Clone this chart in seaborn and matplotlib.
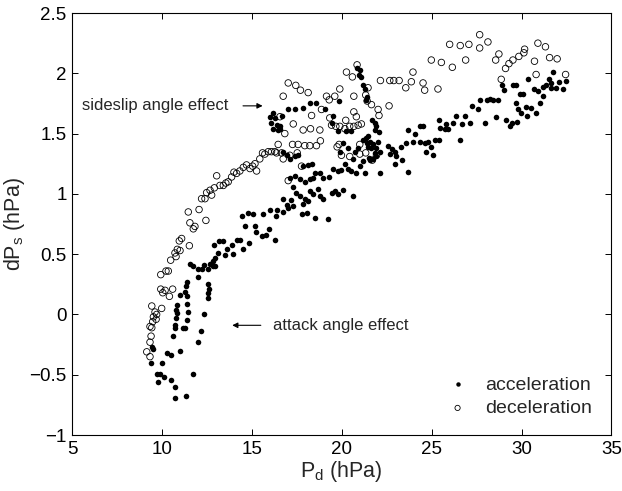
import numpy as np
import pandas as pd
import matplotlib
matplotlib.use("Agg")
import matplotlib.pyplot as plt
import seaborn as sns
from matplotlib.ticker import FuncFormatter

# ---------------- data ----------------
acc_pd = [
    16.00, 16.15, 16.28, 16.04, 16.37, 16.19, 16.46, 16.56, 16.65,
    14.43, 14.80, 15.07, 15.59, 16.00, 16.37, 16.33, 14.61, 15.17, 15.22,
    15.54, 15.78, 15.94, 16.28, 12.91, 13.18, 13.37, 13.59, 13.52, 13.87,
    13.96, 14.15, 14.33, 14.52, 14.85, 13.13, 12.94, 12.85, 12.81, 11.55,
    11.74, 12.02, 12.20, 12.33, 12.57, 12.67, 12.94, 11.37, 11.33, 11.28,
    11.37, 11.41, 11.46, 11.37, 11.28, 12.02, 12.57, 12.57, 12.54, 12.63,
    11.00, 10.81, 10.78, 10.81, 10.78, 10.72, 10.72, 10.63, 12.33, 11.18,
    12.16, 12.02, 10.30, 10.50, 11.00, 9.43, 9.48, 9.39, 9.98, 9.70,
    9.89, 10.11, 9.80, 10.48, 10.72, 11.70, 10.72, 11.33,
    20.85, 21.00, 20.96, 21.09, 21.19, 21.28, 21.33, 21.41, 21.70, 21.83,
    21.93, 21.83, 22.07, 17.02, 17.39, 17.85, 18.22, 18.56, 19.06, 19.43,
    19.85, 16.56, 19.52, 19.80, 20.26, 20.54, 21.46, 21.19, 21.56, 21.46,
    21.74, 22.02, 21.93, 21.83, 21.93, 21.74, 21.52, 22.11, 22.57, 22.81,
    22.67, 22.94, 22.94, 23.32, 23.37, 23.69, 23.69, 24.06, 24.33, 24.52,
    23.96, 24.33, 24.61, 24.80, 24.98, 25.17, 24.70, 25.07, 25.41, 25.44,
    25.41, 25.78, 25.72, 25.91, 26.19, 26.33, 26.56, 26.70, 26.83, 27.11,
    27.26, 27.57, 27.67, 27.94, 28.07, 28.22, 28.41, 28.59, 28.69, 28.93,
    29.00, 29.15, 29.33, 29.52, 29.67, 29.89, 29.70, 29.80, 30.07, 29.98,
    30.26, 30.30, 30.35, 30.54, 30.72, 30.81, 30.91, 31.00, 31.19, 31.19,
    31.37, 31.52, 31.65, 31.74, 31.65, 31.93, 32.11, 32.33, 32.48, 29.48,
    29.74,
    16.74, 16.93, 17.11, 17.39, 17.57, 17.85, 18.13, 18.32, 18.50, 18.78,
    18.96, 19.30, 19.52, 19.80, 19.98, 20.17, 20.35, 20.54, 20.63, 20.81,
    21.00, 21.19, 21.28, 21.56, 17.11, 17.39, 17.67, 17.94, 18.22, 18.41,
    17.30, 17.48, 17.67, 17.94, 18.13, 17.85, 18.22, 18.41, 18.69, 18.78,
    18.96, 19.43, 19.61, 19.80, 20.07, 20.63, 16.74, 17.20, 16.93, 16.74,
    17.02, 17.30, 17.76, 18.04, 18.50, 19.24,
    23.04, 23.59, 21.33, 21.65, 22.11, 21.41, 20.07, 20.35, 20.72, 19.89,
    20.91,
]
acc_dps = [
    1.64, 1.67, 1.63, 1.59, 1.57, 1.54, 1.53, 1.56, 1.65,
    0.82, 0.84, 0.83, 0.83, 0.87, 0.87, 0.82, 0.73, 0.73, 0.68,
    0.65, 0.66, 0.71, 0.62, 0.58, 0.61, 0.61, 0.54, 0.49, 0.58,
    0.50, 0.62, 0.62, 0.54, 0.59, 0.51, 0.47, 0.44, 0.40, 0.42,
    0.40, 0.38, 0.38, 0.41, 0.38, 0.42, 0.40, 0.27, 0.24, 0.19,
    0.15, 0.09, 0.02, -0.05, -0.11, 0.31, 0.25, 0.18, 0.14, 0.21,
    0.16, 0.08, 0.04, 0.01, -0.03, -0.09, -0.11, -0.18, 0.00, -0.11,
    -0.14, -0.23, -0.32, -0.34, -0.30, -0.27, -0.29, -0.40, -0.40, -0.49,
    -0.49, -0.52, -0.56, -0.54, -0.60, -0.49, -0.69, -0.68,
    2.04, 2.03, 1.99, 1.97, 1.90, 1.87, 1.78, 1.80, 1.61, 1.59,
    1.56, 1.53, 1.51, 1.70, 1.70, 1.71, 1.75, 1.75, 1.70, 1.59,
    1.77, 1.54, 1.65, 1.52, 1.52, 1.52, 1.48, 1.45, 1.43, 1.39,
    1.41, 1.43, 1.38, 1.34, 1.31, 1.29, 1.30, 1.17, 1.40, 1.37,
    1.33, 1.25, 1.35, 1.39, 1.28, 1.18, 1.53, 1.50, 1.56, 1.56,
    1.43, 1.43, 1.42, 1.43, 1.39, 1.45, 1.35, 1.32, 1.45, 1.55,
    1.61, 1.58, 1.54, 1.54, 1.59, 1.65, 1.45, 1.58, 1.65, 1.59,
    1.73, 1.70, 1.78, 1.59, 1.78, 1.79, 1.78, 1.64, 1.78, 1.90,
    1.86, 1.61, 1.56, 1.90, 1.90, 1.83, 1.75, 1.70, 1.83, 1.67,
    1.72, 1.65, 1.95, 1.71, 1.87, 1.67, 1.85, 1.75, 1.81, 1.89,
    1.90, 1.95, 1.92, 2.01, 1.88, 1.88, 1.93, 1.87, 1.94, 1.59,
    1.60,
    1.35, 1.32, 1.29, 1.31, 1.32, 1.23, 1.24, 1.25, 1.17, 1.17,
    1.13, 1.14, 1.21, 1.19, 1.20, 1.25, 1.21, 1.19, 1.29, 1.17,
    1.23, 1.27, 1.17, 1.28, 1.13, 1.15, 1.12, 1.10, 1.12, 1.13,
    1.06, 1.01, 0.98, 0.96, 0.94, 0.92, 1.02, 1.00, 1.04, 0.98,
    0.96, 1.01, 1.02, 1.00, 1.03, 0.98, 0.96, 0.95, 0.91, 0.85,
    0.88, 0.90, 0.83, 0.84, 0.80, 0.79,
    1.31, 1.42, 1.46, 1.38, 1.35, 1.42, 1.42, 1.38, 1.35, 1.35,
    1.38,
]

dec_pd = [
    13.04, 13.68, 13.55, 13.41, 13.87, 14.00, 14.15, 14.33, 14.52, 14.70,
    14.89, 15.04, 15.17, 15.26, 15.44, 15.59, 15.72, 15.91, 16.09, 16.28,
    16.46, 16.37, 12.76, 12.48, 12.39, 12.20, 12.67, 12.91, 13.22,
    11.46, 12.06, 12.44, 11.55, 11.83, 11.74, 11.09, 10.96, 11.52, 10.85,
    11.00, 10.72, 10.78, 10.48, 10.22, 10.35, 9.93, 9.93, 10.17, 10.04,
    10.59, 10.41, 9.43, 9.98, 9.61, 9.52, 9.70, 9.67, 9.33, 9.43,
    9.39, 9.33, 9.15, 9.33, 9.48,
    27.67, 28.13, 26.00, 26.59, 27.07, 27.67, 24.98, 25.54, 26.15, 26.89,
    28.56, 28.74, 29.11, 29.30, 29.52, 29.85, 30.13, 30.17, 30.72, 30.91,
    31.33, 31.56, 31.98, 32.45, 30.81, 28.87, 23.96, 23.56, 23.87, 24.52,
    24.61, 25.35, 22.15, 22.67, 22.89, 23.19, 17.02, 17.44, 17.70, 18.13,
    16.74, 16.56, 16.83, 17.30, 17.85, 18.26, 18.78, 18.87, 18.32, 17.26,
    17.57, 17.94, 18.22, 18.59, 18.81, 16.65, 16.74, 17.11, 17.52, 17.76,
    17.02, 19.15, 19.30, 19.61, 19.89, 19.43, 19.67, 19.89, 20.17, 20.44,
    20.67, 20.91, 21.09, 20.22, 20.67, 20.81, 20.26, 20.59, 20.85, 21.46,
    21.33, 21.41, 21.65, 22.02, 22.07, 22.63, 20.67, 19.33, 19.85, 19.74,
    21.00, 19.98, 20.44, 21.00, 21.33, 21.93, 21.70,
]
dec_dps = [
    1.15, 1.10, 1.09, 1.07, 1.14, 1.18, 1.17, 1.19, 1.22, 1.24,
    1.21, 1.23, 1.25, 1.19, 1.29, 1.34, 1.33, 1.35, 1.35, 1.35,
    1.41, 1.34, 0.99, 1.01, 0.96, 0.96, 1.03, 1.05, 1.07,
    0.85, 0.87, 0.78, 0.76, 0.73, 0.71, 0.63, 0.61, 0.57, 0.54,
    0.53, 0.51, 0.48, 0.45, 0.36, 0.36, 0.33, 0.21, 0.20, 0.18,
    0.21, 0.15, 0.07, 0.05, 0.02, -0.02, 0.00, -0.04, -0.10, -0.11,
    -0.18, -0.23, -0.31, -0.35, -0.06,
    2.32, 2.26, 2.24, 2.23, 2.24, 2.21, 2.11, 2.09, 2.05, 2.11,
    2.11, 2.16, 2.04, 2.08, 2.11, 2.14, 2.17, 2.20, 2.10, 2.25,
    2.22, 2.13, 2.12, 1.99, 1.99, 1.95, 2.01, 1.88, 1.93, 1.92,
    1.86, 1.87, 1.94, 1.94, 1.94, 1.94, 1.92, 1.90, 1.86, 1.84,
    1.81, 1.64, 1.50, 1.58, 1.53, 1.54, 1.53, 1.70, 1.65, 1.41,
    1.41, 1.40, 1.40, 1.40, 1.44, 1.34, 1.29, 1.32, 1.34, 1.23,
    1.11, 1.81, 1.78, 1.81, 1.87, 1.57, 1.56, 1.56, 1.54, 1.56,
    1.56, 1.57, 1.58, 1.61, 1.68, 1.64, 2.01, 1.97, 2.07, 1.88,
    1.82, 1.77, 1.74, 1.70, 1.65, 1.73, 1.81, 1.63, 1.41, 1.39,
    1.41, 1.32, 1.31, 1.33, 1.34, 1.32, 1.28,
]

x_ticks = [5, 10, 15, 20, 25, 30, 35]
y_ticks = [-1, -0.5, 0, 0.5, 1, 1.5, 2, 2.5]

acc = pd.DataFrame({"Pd": acc_pd, "dPs": acc_dps})
dec = pd.DataFrame({"Pd": dec_pd, "dPs": dec_dps})

# ---------------- style ----------------
sns.set_style("ticks")
plt.rcParams["font.family"] = ["Liberation Sans", "DejaVu Sans"]
plt.rcParams["mathtext.fontset"] = "custom"
plt.rcParams["mathtext.rm"] = "Liberation Sans"
plt.rcParams["axes.unicode_minus"] = True

fig = plt.figure(figsize=(6.22, 4.91), dpi=100)
ax = fig.add_axes([0.116, 0.114, 0.867, 0.8595])

sns.scatterplot(data=acc, x="Pd", y="dPs", ax=ax, color="black", s=16,
                linewidth=0, label="acceleration", zorder=3)
sns.scatterplot(data=dec, x="Pd", y="dPs", ax=ax, color="black", s=22,
                linewidth=0.6, label="deceleration", zorder=2)
coll = ax.collections[-1]
coll.set_facecolor("none")
coll.set_edgecolor("black")

ax.set_xlim(5, 35)
ax.set_ylim(-1, 2.5)
ax.set_xticks(x_ticks)
ax.set_yticks(y_ticks)
ax.yaxis.set_major_formatter(FuncFormatter(lambda v, p: ("%g" % v).replace("-", "\u2212")))
ax.xaxis.set_major_formatter(FuncFormatter(lambda v, p: "%g" % v))
ax.tick_params(direction="in", top=True, right=True, length=4, width=0.7,
               labelsize=13.5, pad=4, colors="black")
for sp in ax.spines.values():
    sp.set_linewidth(0.8)
    sp.set_color("black")

ax.set_xlabel(r"P$_\mathregular{d}$ (hPa)", fontsize=15.5, labelpad=1)
ax.set_ylabel(r"dP$_\mathregular{s}$ (hPa)", fontsize=15.5, labelpad=2)

# annotations
ax.annotate("", xy=(15.75, 1.73), xytext=(14.35, 1.73),
            arrowprops=dict(arrowstyle="-|>", color="black", lw=0.8,
                            mutation_scale=8))
ax.text(5.55, 1.73, "sideslip angle effect", fontsize=12, va="center", ha="left")
ax.annotate("", xy=(13.75, -0.09), xytext=(15.65, -0.09),
            arrowprops=dict(arrowstyle="-|>", color="black", lw=0.8,
                            mutation_scale=8))
ax.text(16.15, -0.09, "attack angle effect", fontsize=12, va="center", ha="left")

leg = ax.legend(loc="lower right", bbox_to_anchor=(0.985, 0.015), frameon=False,
                fontsize=14, handletextpad=0.4, labelspacing=0.3,
                markerscale=0.8, borderaxespad=0.2)

fig.savefig("out.png", dpi=100)
